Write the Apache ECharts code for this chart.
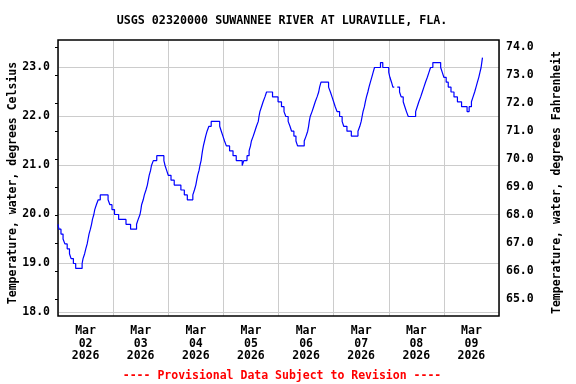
<!DOCTYPE html>
<html>
<head>
<meta charset="utf-8">
<script src="https://cdn.jsdelivr.net/npm/echarts@6/dist/echarts.min.js"></script>
<style>html,body{margin:0;padding:0;background:#fff}#c{width:576px;height:384px}</style>
</head>
<body>
<div id="c"></div>
<script>
const titleText = 'USGS 02320000 SUWANNEE RIVER AT LURAVILLE, FLA.';
const footerText = '---- Provisional Data Subject to Revision ----';
const monthLabel = 'Mar';
const yearLabel = '2026';
const dayLabels = ['02', '03', '04', '05', '06', '07', '08', '09'];
const celsiusRange = [18, 23];
const fahrenheitRange = [65, 74];

// hours since Mar 02 00:00 at which the reading changes, and the reading (deg C)
const hours = [
  0.0, 0.4, 1.3, 2.2, 3.0, 4.0, 5.0, 5.7, 6.7, 7.7,
  10.5, 10.9, 11.6, 12.1, 12.7, 13.1, 13.5, 14.1, 14.6, 15.0, 15.6, 16.0, 16.7, 17.5, 18.4,
  21.8, 22.6, 23.5, 24.6, 26.4, 29.6, 31.6,
  34.2, 34.9, 35.7, 36.1, 36.4, 37.1, 37.6, 38.3, 38.9, 39.3, 39.7, 40.3, 40.7, 41.5, 43.0,
  46.1, 46.6, 47.3, 48.0, 49.2, 50.6, 53.5, 55.0, 56.3,
  58.7, 59.4, 60.0, 60.4, 60.8, 61.4, 61.8, 62.3, 62.6, 62.9, 63.3, 63.8, 64.3, 64.9, 65.7, 66.7,
  70.4, 71.1, 71.8, 72.5, 73.3, 74.7, 76.2, 77.6, 80.2,
  80.9, 82.3, 83.2, 83.8, 84.2, 85.0, 85.7, 86.4, 87.2, 87.5, 87.9, 88.6, 89.3, 90.1, 90.8,
  93.4, 95.8, 97.3, 98.4, 99.2, 100.2, 101.0, 101.7, 102.7, 103.6, 104.3,
  107.2, 108.0, 108.7, 109.1, 109.4, 109.8, 110.6, 111.3, 112.0, 112.8, 113.5, 113.9, 114.5,
  117.8, 118.6, 119.3, 120.0, 120.7, 121.5, 122.6, 123.7, 124.4, 125.8, 127.7,
  130.6, 131.4, 132.0, 132.4, 132.8, 133.4, 133.8, 134.3, 134.9, 135.4, 136.0, 136.6, 137.2, 137.8,
  140.4, 141.4, 144.0, 144.5, 145.2, 145.8, 146.4,
  147.7, 148.7, 149.4, 150.3, 151.0, 151.7, 152.5,
  155.7, 156.4, 157.1, 157.9, 158.6, 159.3, 160.0, 160.8, 161.5, 162.2, 163.2,
  166.6, 167.3, 168.0, 169.0, 169.9, 171.1, 172.4, 173.9, 175.7, 178.1,
  179.0, 180.0, 180.7, 181.4, 182.0, 182.6, 183.2, 183.7, 184.2, 184.5, 184.8, 185.0
];
const tempC = [
  19.8, 19.7, 19.6, 19.5, 19.4, 19.3, 19.2, 19.1, 19.0, 18.9,
  19.0, 19.1, 19.2, 19.3, 19.4, 19.5, 19.6, 19.7, 19.8, 19.9, 20.0, 20.1, 20.2, 20.3, 20.4,
  20.3, 20.2, 20.1, 20.0, 19.9, 19.8, 19.7,
  19.8, 19.9, 20.0, 20.1, 20.2, 20.3, 20.4, 20.5, 20.6, 20.7, 20.8, 20.9, 21.0, 21.1, 21.2,
  21.1, 21.0, 20.9, 20.8, 20.7, 20.6, 20.5, 20.4, 20.3,
  20.4, 20.5, 20.6, 20.7, 20.8, 20.9, 21.0, 21.1, 21.2, 21.3, 21.4, 21.5, 21.6, 21.7, 21.8, 21.9,
  21.8, 21.7, 21.6, 21.5, 21.4, 21.3, 21.2, 21.1, 21.0,
  21.1, 21.2, 21.3, 21.4, 21.5, 21.6, 21.7, 21.8, 21.9, 22.0, 22.1, 22.2, 22.3, 22.4, 22.5,
  22.4, 22.3, 22.2, 22.1, 22.0, 21.9, 21.8, 21.7, 21.6, 21.5, 21.4,
  21.5, 21.6, 21.7, 21.8, 21.9, 22.0, 22.1, 22.2, 22.3, 22.4, 22.5, 22.6, 22.7,
  22.6, 22.5, 22.4, 22.3, 22.2, 22.1, 22.0, 21.9, 21.8, 21.7, 21.6,
  21.7, 21.8, 21.9, 22.0, 22.1, 22.2, 22.3, 22.4, 22.5, 22.6, 22.7, 22.8, 22.9, 23.0,
  23.1, 23.0, 22.9, 22.8, 22.7, 22.6, null,
  22.6, 22.5, 22.4, 22.3, 22.2, 22.1, 22.0,
  22.1, 22.2, 22.3, 22.4, 22.5, 22.6, 22.7, 22.8, 22.9, 23.0, 23.1,
  23.0, 22.9, 22.8, 22.7, 22.6, 22.5, 22.4, 22.3, 22.2, 22.1,
  22.2, 22.3, 22.4, 22.5, 22.6, 22.7, 22.8, 22.9, 23.0, 23.1, 23.2, 23.2
];

const FONT = '"DejaVu Sans Mono", "Liberation Mono", monospace';
const txt = {fontFamily: FONT, fontWeight: 'bold', fontSize: 11.5, color: '#000'};
const hiddenX = {type: 'value', min: 0, max: 192, show: false};
const oneDecimal = function (v) { return v.toFixed(1); };

const chart = echarts.init(document.getElementById('c'), null, {renderer: 'canvas'});
chart.setOption({
  animation: false,
  backgroundColor: '#fff',
  title: [
    {text: titleText, left: 277, top: 10, textAlign: 'center',
     textStyle: Object.assign({}, txt, {fontSize: 11.7})},
    {text: footerText, left: 277, top: 365, textAlign: 'center',
     textStyle: Object.assign({}, txt, {color: '#ff0000'})}
  ],
  grid: [
    // frame + day grid
    {left: 58, right: 77, top: 40, bottom: 68, show: true, outerBoundsMode: 'none', containLabel: false,
     borderColor: '#000', borderWidth: 1.5, backgroundColor: 'transparent', z: 3},
    // Celsius scale (18.0 .. 23.0 gridlines)
    {left: 58, right: 77, top: 67.5, height: 245, outerBoundsMode: 'none', containLabel: false},
    // Fahrenheit scale (65.0 .. 74.0 ticks)
    {left: 58, right: 77, top: 47.5, height: 252, outerBoundsMode: 'none', containLabel: false}
  ],
  xAxis: [
    {gridIndex: 0, type: 'value', min: 0, max: 192, interval: 12, position: 'bottom',
     axisLine: {show: false}, axisTick: {show: false}, splitLine: {show: false},
     axisLabel: Object.assign({}, txt, {margin: 9, lineHeight: 12.6,
       showMinLabel: false, showMaxLabel: false,
       formatter: function (v) {
         if (v % 24 !== 12) return '';
         return monthLabel + '\n' + dayLabels[(v - 12) / 24] + '\n' + yearLabel;
       }})},
    {gridIndex: 0, type: 'value', min: 0, max: 192, interval: 24, position: 'top',
     axisLine: {show: false}, axisTick: {show: false}, axisLabel: {show: false},
     splitLine: {show: true, lineStyle: {color: '#cccccc', width: 1}}},
    Object.assign({gridIndex: 1}, hiddenX),
    Object.assign({gridIndex: 2}, hiddenX)
  ],
  yAxis: [
    {gridIndex: 0, type: 'value', min: 0, max: 1, show: false,
     axisTick: {show: false}, axisLabel: {show: false}, splitLine: {show: false}},
    {gridIndex: 1, type: 'value', min: celsiusRange[0], max: celsiusRange[1], interval: 1, position: 'left',
     name: 'Temperature, water, degrees Celsius', nameLocation: 'middle', nameGap: 39, nameRotate: 90,
     nameMoveOverlap: false,
     nameTextStyle: Object.assign({}, txt, {padding: [0, 0, 0, 14]}),
     axisLine: {show: false}, axisTick: {show: false},
     axisLabel: Object.assign({}, txt, {margin: 8, formatter: oneDecimal}),
     splitLine: {show: true, lineStyle: {color: '#cccccc', width: 1}}},
    {gridIndex: 2, type: 'value', min: fahrenheitRange[0], max: fahrenheitRange[1], interval: 1, position: 'right',
     name: 'Temperature, water, degrees Fahrenheit', nameLocation: 'middle', nameGap: 52, nameRotate: 90,
     nameMoveOverlap: false,
     nameTextStyle: Object.assign({}, txt, {padding: [0, 18, 0, 0]}),
     axisLine: {show: false},
     axisTick: {show: true, inside: true, length: 3, lineStyle: {color: '#000', width: 1}},
     axisLabel: Object.assign({}, txt, {margin: 7, formatter: oneDecimal}),
     splitLine: {show: false}}
  ],
  series: [{
    type: 'line', xAxisIndex: 2, yAxisIndex: 1, step: 'end', showSymbol: false,
    connectNulls: false, clip: false, z: 4,
    data: hours.map(function (h, i) { return [h, tempC[i]]; }),
    lineStyle: {color: '#0000ff', width: 1.2}
  }]
});
</script>
</body>
</html>
